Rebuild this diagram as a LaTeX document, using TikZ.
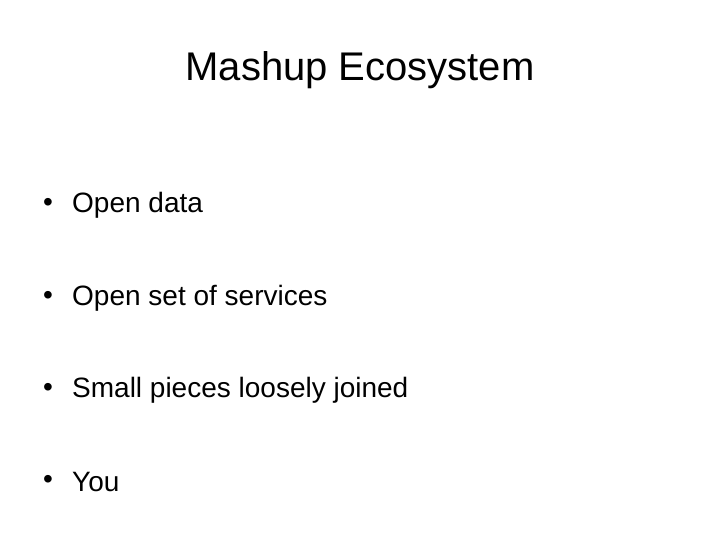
\documentclass[tikz,border=0pt]{standalone}
\usepackage{fontspec}
\setmainfont{Liberation Sans}
\begin{document}
\begin{tikzpicture}[x=1pt,y=1pt,
  item/.style={anchor=west,inner sep=0pt,font=\fontsize{28}{32}\selectfont},
  dot/.style={anchor=center,inner sep=0pt,font=\fontsize{28}{32}\selectfont}]
\fill[white] (0,0) rectangle (720,-540);
\useasboundingbox (0,0) rectangle (720,-540);
\node[inner sep=0pt,font=\fontsize{40}{44}\selectfont] (title) at (360,-70) {Mashup Ecosystem};
\foreach \n/\y/\t in {a/205/Open data, b/298/Open set of services, c/390/Small pieces loosely joined, d/482/You}{
  \node[dot] (b\n) at (48,-\y) {•};
  \node[item] (t\n) at (72,-\y) {\t};
}
\end{tikzpicture}
\end{document}
